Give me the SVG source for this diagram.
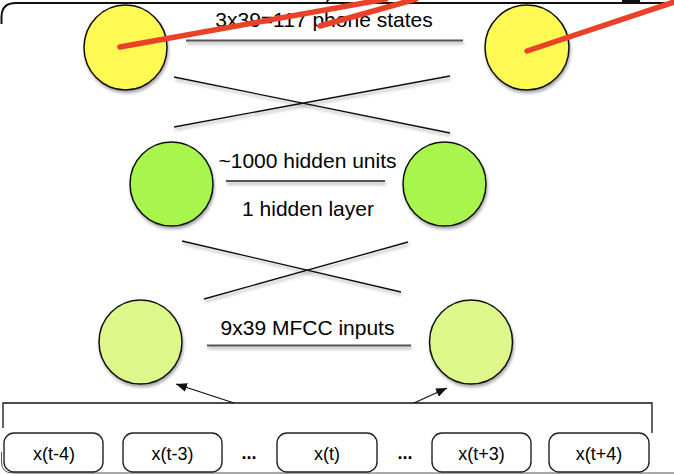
<svg xmlns="http://www.w3.org/2000/svg" width="674" height="474" viewBox="0 0 674 474">
<defs>
<style>
.t{font-family:"Liberation Sans",Arial,Helvetica,sans-serif;fill:#000;text-anchor:middle}
.lbl{font-size:21px}
.box{font-size:18px}
.n{stroke:#111;stroke-width:1.5}
.y{fill:#fff952}
.g{fill:#a8f54e}
.p{fill:#def78b}
.w{stroke:#111;stroke-width:1.3;fill:none}
.ul{stroke:#555;stroke-width:2;fill:none}
.rb{fill:#fff;stroke:#222;stroke-width:1.4}
.red{stroke:#ea4128;stroke-width:5.5;stroke-linecap:round;fill:none}
</style>
<filter id="sh" filterUnits="userSpaceOnUse" x="-10" y="-10" width="700" height="500">
<feDropShadow dx="1" dy="2.5" stdDeviation="1.5" flood-color="#000" flood-opacity="0.35"/>
</filter>
<marker id="ah" markerUnits="userSpaceOnUse" markerWidth="12" markerHeight="9" refX="11" refY="4.5" orient="auto">
<path d="M0,0 L11,4.5 L0,9 z" fill="#111"/>
</marker>
</defs>
<rect width="674" height="474" fill="#fff"/>
<g id="frame" fill="none" stroke="#111">
<path d="M674 3 H16 Q1.5 3 1.5 17 V24" stroke-width="2"/>
<path d="M326.5 3 Q327 0 330 -1" stroke-width="1.5"/>
<path d="M622 1 H640" stroke-width="2.5"/>
<path d="M1.5 452 V462 Q1.5 473 13 473 H674" stroke-width="1" stroke="#555"/>
</g>
<g id="connectors">
<line class="w" x1="174" y1="77" x2="450" y2="133" filter="url(#sh)"/>
<line class="w" x1="174" y1="127" x2="450" y2="76" filter="url(#sh)"/>
<line class="w" x1="182" y1="241" x2="401" y2="292" filter="url(#sh)"/>
<line class="w" x1="204" y1="299" x2="408" y2="242" filter="url(#sh)"/>
<path class="w" d="M3 428 V403 H652 V433"/>
<line class="w" x1="234" y1="403" x2="176" y2="384" marker-end="url(#ah)"/>
<line class="w" x1="414" y1="403" x2="447" y2="388" marker-end="url(#ah)"/>
</g>
<g id="output-left"><ellipse class="n y" cx="125.5" cy="47.5" rx="41.5" ry="42.5" filter="url(#sh)"/></g>
<g id="output-right"><ellipse class="n y" cx="527" cy="47.5" rx="42" ry="42.5" filter="url(#sh)"/></g>
<g id="output-label">
<text class="t lbl" x="324" y="27">3x39=117 phone states</text>
<line class="ul" x1="186" y1="40.5" x2="463" y2="40.5" filter="url(#sh)"/>
</g>
<g id="hidden-left"><ellipse class="n g" cx="171.5" cy="184" rx="41.5" ry="42" filter="url(#sh)"/></g>
<g id="hidden-right"><ellipse class="n g" cx="444.5" cy="184" rx="41.5" ry="42" filter="url(#sh)"/></g>
<g id="hidden-label">
<text class="t lbl" x="307.5" y="168">~1000 hidden units</text>
<line class="ul" x1="226" y1="181" x2="385" y2="181" filter="url(#sh)"/>
<text class="t lbl" x="308" y="216">1 hidden layer</text>
</g>
<g id="input-left"><ellipse class="n p" cx="140.5" cy="342" rx="41.5" ry="42" filter="url(#sh)"/></g>
<g id="input-right"><ellipse class="n p" cx="471" cy="342" rx="41.5" ry="42" filter="url(#sh)"/></g>
<g id="input-label">
<text class="t lbl" x="307.5" y="335">9x39 MFCC inputs</text>
<line class="ul" x1="207" y1="345.5" x2="411" y2="345.5" filter="url(#sh)"/>
</g>
<g id="frame-t-4"><rect class="rb" x="4" y="433" width="99" height="39" rx="10"/><text class="t box" x="54" y="460">x(t-4)</text></g>
<g id="frame-t-3"><rect class="rb" x="123" y="433" width="99" height="39" rx="10"/><text class="t box" x="172.5" y="460">x(t-3)</text></g>
<g id="dots-1"><text class="t box" x="249" y="459" font-weight="bold">...</text></g>
<g id="frame-t"><rect class="rb" x="277" y="433" width="100" height="39" rx="10"/><text class="t box" x="327" y="460">x(t)</text></g>
<g id="dots-2"><text class="t box" x="405" y="459" font-weight="bold">...</text></g>
<g id="frame-t+3"><rect class="rb" x="432" y="433" width="99" height="39" rx="10"/><text class="t box" x="481.5" y="460">x(t+3)</text></g>
<g id="frame-t+4"><rect class="rb" x="549" y="433" width="100" height="39" rx="10"/><text class="t box" x="599" y="460">x(t+4)</text></g>
<g id="annotations">
<line class="red" x1="120" y1="47" x2="386" y2="-1"/>
<line class="red" x1="320" y1="26" x2="416" y2="-1"/>
<line class="red" x1="527" y1="51" x2="683" y2="-1"/>
</g>
</svg>
